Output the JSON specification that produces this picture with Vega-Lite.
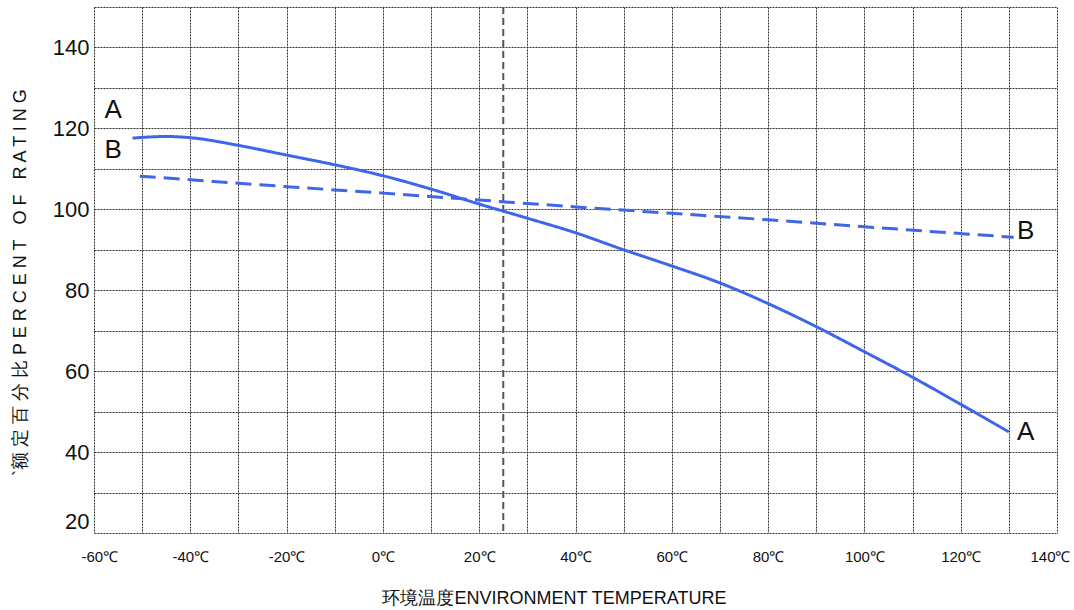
{
  "$schema": "https://vega.github.io/schema/vega-lite/v6.json",
  "width": 963,
  "height": 526,
  "autosize": "none",
  "padding": {"left": 94, "top": 7, "right": 17, "bottom": 77},
  "background": "white",
  "config": {"view": {"stroke": null}},
  "datasets": {
    "curves": [
      {"series": "A", "temp": -52, "pct": 117.6},
      {"series": "A", "temp": -45, "pct": 118.0},
      {"series": "A", "temp": -40, "pct": 117.7},
      {"series": "A", "temp": -30, "pct": 115.8},
      {"series": "A", "temp": -20, "pct": 113.4},
      {"series": "A", "temp": -10, "pct": 111.0},
      {"series": "A", "temp": 0, "pct": 108.3},
      {"series": "A", "temp": 10, "pct": 105.0},
      {"series": "A", "temp": 20, "pct": 101.3},
      {"series": "A", "temp": 30, "pct": 97.8},
      {"series": "A", "temp": 40, "pct": 94.2},
      {"series": "A", "temp": 50, "pct": 90.0},
      {"series": "A", "temp": 60, "pct": 86.0},
      {"series": "A", "temp": 70, "pct": 81.8},
      {"series": "A", "temp": 80, "pct": 76.7},
      {"series": "A", "temp": 90, "pct": 71.0},
      {"series": "A", "temp": 100, "pct": 64.8},
      {"series": "A", "temp": 110, "pct": 58.5},
      {"series": "A", "temp": 120, "pct": 51.8},
      {"series": "A", "temp": 130, "pct": 45.0},
      {"series": "B", "temp": -50.5, "pct": 108.2},
      {"series": "B", "temp": -40, "pct": 107.3},
      {"series": "B", "temp": -20, "pct": 105.6},
      {"series": "B", "temp": 0, "pct": 104.0},
      {"series": "B", "temp": 20, "pct": 102.3},
      {"series": "B", "temp": 40, "pct": 100.6},
      {"series": "B", "temp": 60, "pct": 99.0},
      {"series": "B", "temp": 80, "pct": 97.4},
      {"series": "B", "temp": 100, "pct": 95.7},
      {"series": "B", "temp": 120, "pct": 94.0},
      {"series": "B", "temp": 131, "pct": 93.1}
    ],
    "labels": [
      {"label": "A", "temp": -56, "pct": 124.5},
      {"label": "B", "temp": -56, "pct": 114.7},
      {"label": "A", "temp": 133.5, "pct": 45.0},
      {"label": "B", "temp": 133.5, "pct": 94.6}
    ],
    "refline": [
      {"temp": 25}
    ]
  },
  "encoding": {
    "x": {
      "type": "quantitative",
      "scale": {"domain": [-60, 140], "nice": false, "zero": false},
      "axis": {
        "title": "环境温度ENVIRONMENT TEMPERATURE",
        "values": [-60, -50, -40, -30, -20, -10, 0, 10, 20, 30, 40, 50, 60, 70, 80, 90, 100, 110, 120, 130, 140],
        "labelExpr": "datum.value % 20 == 0 ? datum.value + '℃' : ''",
        "ticks": false,
        "domain": false,
        "grid": true,
        "gridColor": "#333333",
        "gridDash": [2, 1],
        "gridWidth": 1,
        "gridOpacity": 1,
        "labelFont": "Liberation Sans",
        "labelFontSize": 15,
        "labelColor": "#111111",
        "labelPadding": 16,
        "labelFlush": true,
        "labelFlushOffset": 13,
        "labelOverlap": false,
        "titleFont": "Liberation Sans",
        "titleFontSize": 18,
        "titleFontWeight": "normal",
        "titleColor": "#111111",
        "titleX": 460,
        "titleY": 65,
        "titleBaseline": "middle",
        "titleAlign": "center"
      }
    },
    "y": {
      "type": "quantitative",
      "scale": {"domain": [20, 150], "nice": false, "zero": false},
      "axis": {
        "title": "`额 定 百 分 比 P E R C E N T\u00a0\u00a0\u00a0O F\u00a0\u00a0\u00a0R A T I N G",
        "values": [20, 30, 40, 50, 60, 70, 80, 90, 100, 110, 120, 130, 140, 150],
        "labelExpr": "datum.value % 20 == 0 && datum.value < 150 ? datum.label : ''",
        "ticks": false,
        "domain": false,
        "grid": true,
        "gridColor": "#333333",
        "gridDash": [2, 1],
        "gridWidth": 1,
        "gridOpacity": 1,
        "labelFont": "Liberation Sans",
        "labelFontSize": 22,
        "labelColor": "#111111",
        "labelPadding": 5,
        "labelFlush": true,
        "labelOverlap": false,
        "titleFont": "Liberation Sans",
        "titleFontSize": 18,
        "titleFontWeight": "normal",
        "titleColor": "#111111",
        "titleX": -74,
        "titleY": 275,
        "titleAngle": -90,
        "titleBaseline": "middle",
        "titleAlign": "center"
      }
    }
  },
  "layer": [
    {
      "data": {"name": "refline"},
      "mark": {"type": "rule", "color": "#555555", "strokeWidth": 2, "strokeDash": [7, 4]},
      "encoding": {"x": {"field": "temp"}}
    },
    {
      "data": {"name": "curves"},
      "mark": {"type": "line", "strokeWidth": 3, "interpolate": "monotone"},
      "encoding": {
        "x": {"field": "temp"},
        "y": {"field": "pct"},
        "color": {"field": "series", "type": "nominal", "scale": {"domain": ["A", "B"], "range": ["#3F66E8", "#3F66E8"]}, "legend": null},
        "strokeDash": {"field": "series", "type": "nominal", "scale": {"domain": ["A", "B"], "range": [[1, 0], [16, 8]]}, "legend": null}
      }
    },
    {
      "data": {"name": "labels"},
      "mark": {"type": "text", "font": "Liberation Sans", "fontSize": 26, "color": "#111111", "align": "center", "baseline": "middle"},
      "encoding": {
        "x": {"field": "temp"},
        "y": {"field": "pct"},
        "text": {"field": "label"}
      }
    }
  ]
}
